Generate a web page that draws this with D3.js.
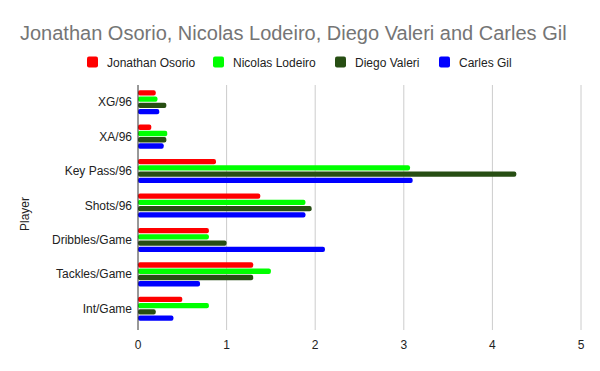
<!DOCTYPE html>
<html>
<head>
<meta charset="utf-8">
<script src="https://cdn.jsdelivr.net/npm/d3@7"></script>
<style>
  body { margin: 0; background: #fff; }
  svg { font-family: Arial, "Liberation Sans", sans-serif; }
</style>
</head>
<body>
<svg id="chart" width="600" height="371"></svg>
<script>
const categories = ["XG/96", "XA/96", "Key Pass/96", "Shots/96", "Dribbles/Game", "Tackles/Game", "Int/Game"];
const players = ["Jonathan Osorio", "Nicolas Lodeiro", "Diego Valeri", "Carles Gil"];
const colors = ["#ff0000", "#00ff00", "#274e13", "#0000ff"];

const osorio = [0.2, 0.15, 0.88, 1.38, 0.8, 1.3, 0.5];
const lodeiro = [0.22, 0.33, 3.07, 1.89, 0.8, 1.5, 0.8];
const valeri = [0.32, 0.32, 4.27, 1.96, 1.0, 1.3, 0.2];
const gil = [0.24, 0.29, 3.1, 1.89, 2.11, 0.7, 0.4];
const xTicks = [0, 1, 2, 3, 4, 5];

const series = [osorio, lodeiro, valeri, gil];

const svg = d3.select("#chart");
const plotLeft = 138, plotRight = 581, plotTop = 85, plotBottom = 326;

const x = d3.scaleLinear().domain([0, 5]).range([plotLeft, plotRight]);
const y = d3.scaleBand().domain(categories).range([plotTop, plotBottom]).paddingInner(0.3).paddingOuter(0.15);
const yInner = d3.scaleBand().domain(players).range([0, y.bandwidth()]).paddingInner(0.15);

// title
svg.append("text")
  .attr("x", 20).attr("y", 40)
  .attr("fill", "#757575")
  .attr("font-size", 20)
  .text("Jonathan Osorio, Nicolas Lodeiro, Diego Valeri and Carles Gil");

// legend
const legendX = [87, 213, 335, 439];
const legend = svg.selectAll("g.legend").data(players).enter().append("g")
  .attr("transform", (d, i) => `translate(${legendX[i]},56.5)`);
legend.append("rect")
  .attr("width", 11).attr("height", 11).attr("rx", 2)
  .attr("fill", (d, i) => colors[i]);
legend.append("text")
  .attr("x", 20).attr("y", 10)
  .attr("font-size", 12).attr("fill", "#222")
  .text(d => d);

// grid
svg.selectAll("line.grid").data(xTicks.slice(1)).enter().append("line")
  .attr("x1", d => x(d)).attr("x2", d => x(d))
  .attr("y1", plotTop).attr("y2", plotBottom + 4)
  .attr("stroke", "#cccccc").attr("stroke-width", 1);

// x tick labels
svg.selectAll("text.xt").data(xTicks).enter().append("text")
  .attr("x", d => x(d)).attr("y", 349)
  .attr("text-anchor", "middle")
  .attr("font-size", 12).attr("fill", "#222")
  .text(d => d);

// bars
const groups = svg.selectAll("g.cat").data(categories).enter().append("g")
  .attr("transform", d => `translate(0,${y(d)})`);
groups.selectAll("rect").data((c, ci) => series.map((s, si) => ({ v: s[ci], p: players[si], i: si })))
  .enter().append("rect")
  .attr("x", x(0))
  .attr("y", d => yInner(d.p))
  .attr("width", d => x(d.v) - x(0))
  .attr("height", yInner.bandwidth())
  .attr("rx", 2)
  .attr("fill", d => colors[d.i]);

// axis line
svg.append("line")
  .attr("x1", plotLeft).attr("x2", plotLeft)
  .attr("y1", plotTop).attr("y2", plotBottom + 4)
  .attr("stroke", "#333").attr("stroke-width", 1);

// category labels
svg.selectAll("text.cat").data(categories).enter().append("text")
  .attr("x", 132).attr("y", d => y(d) + y.bandwidth() / 2 + 4)
  .attr("text-anchor", "end")
  .attr("font-size", 12).attr("fill", "#222")
  .text(d => d);

// y title
svg.append("text")
  .attr("transform", "translate(29,214) rotate(-90)")
  .attr("text-anchor", "middle")
  .attr("font-size", 12).attr("fill", "#222")
  .text("Player");
</script>
</body>
</html>
